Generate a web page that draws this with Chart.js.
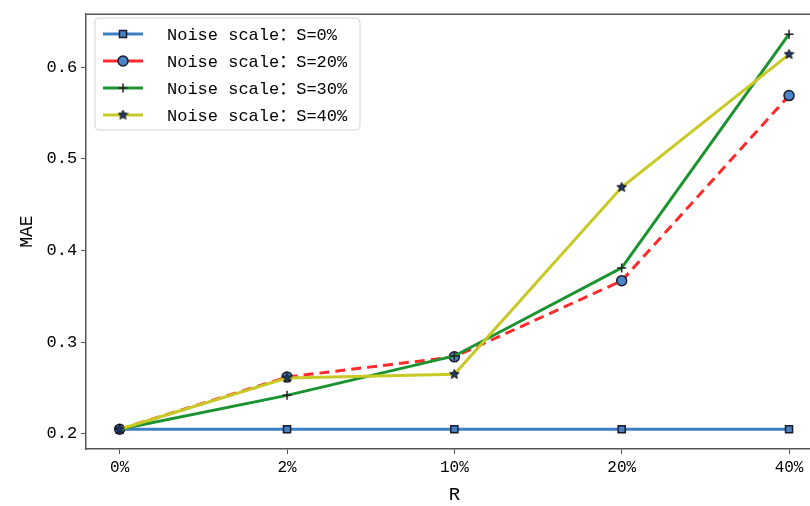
<!DOCTYPE html>
<html>
<head>
<meta charset="utf-8">
<script src="https://cdn.jsdelivr.net/npm/chart.js@4"></script>
<style>
  html, body { margin: 0; padding: 0; background: #fff; overflow: hidden; }
  #wrap { position: relative; width: 829px; height: 506px; }
</style>
</head>
<body>
<div id="wrap"><canvas id="myChart"></canvas></div>
<script>
const categories = ['0%', '2%', '10%', '20%', '40%'];
const yTicks = [0.2, 0.3, 0.4, 0.5, 0.6];
const seriesNames = ['Noise scale：S=0%', 'Noise scale：S=20%', 'Noise scale：S=30%', 'Noise scale：S=40%'];
const s0 = [0.205, 0.205, 0.205, 0.205, 0.205];
const s20 = [0.205, 0.262, 0.284, 0.367, 0.569];
const s30 = [0.205, 0.242, 0.285, 0.381, 0.636];
const s40 = [0.205, 0.261, 0.265, 0.469, 0.614];

const FONT = "'Liberation Mono', 'Noto Sans CJK SC', monospace";

// filled star marker like matplotlib '*'
function makeStar(size, fill, edge) {
  const c = document.createElement('canvas');
  c.width = size; c.height = size;
  const g = c.getContext('2d');
  const cx = size / 2, cy = size / 2, R = size / 2 - 0.5, r = R * 0.45;
  g.beginPath();
  for (let i = 0; i < 10; i++) {
    const a = -Math.PI / 2 + i * Math.PI / 5;
    const rr = i % 2 ? r : R;
    g.lineTo(cx + rr * Math.cos(a), cy + rr * Math.sin(a));
  }
  g.closePath();
  g.fillStyle = fill; g.fill();
  g.strokeStyle = edge; g.lineWidth = 1; g.stroke();
  return c;
}
const star = makeStar(11, '#1d3a6e', '#111');

const pts = arr => arr.map((v, i) => ({x: i, y: v}));

const datasets = [
  {
    label: seriesNames[0], data: pts(s0), order: 4,
    borderColor: '#3d7fc4', borderWidth: 3,
    pointStyle: 'rect', pointRadius: 5, pointBackgroundColor: '#4a80c0',
    pointBorderColor: '#1a1a2a', pointBorderWidth: 1.5
  },
  {
    label: seriesNames[1], data: pts(s20), order: 3,
    borderColor: '#ff2a2a', borderWidth: 3, borderDash: [10, 6],
    pointStyle: 'circle', pointRadius: 5, pointBackgroundColor: '#4a86c8',
    pointBorderColor: '#1a1a2a', pointBorderWidth: 1.5
  },
  {
    label: seriesNames[2], data: pts(s30), order: 2,
    borderColor: '#1b9330', borderWidth: 3,
    pointStyle: 'cross', pointRadius: 4.5, pointBackgroundColor: '#222',
    pointBorderColor: '#222', pointBorderWidth: 1.5
  },
  {
    label: seriesNames[3], data: pts(s40), order: 1,
    borderColor: '#c9c925', borderWidth: 3,
    pointStyle: star, pointRadius: 5, pointBackgroundColor: '#1d3a6e',
    pointBorderColor: '#111', pointBorderWidth: 1
  }
];

const frameAndLegend = {
  id: 'frameAndLegend',
  afterDraw(chart) {
    const {ctx, chartArea: a} = chart;
    ctx.save();
    // top frame line
    ctx.strokeStyle = '#555';
    ctx.lineWidth = 1.5;
    ctx.beginPath();
    ctx.moveTo(a.left, a.top);
    ctx.lineTo(a.right, a.top);
    ctx.stroke();

    // legend box
    const bx = 95, by = 18, bw = 265, bh = 112;
    ctx.beginPath();
    ctx.roundRect(bx, by, bw, bh, 4);
    ctx.fillStyle = 'rgba(255,255,255,0.85)';
    ctx.fill();
    ctx.strokeStyle = '#d4d4d4';
    ctx.lineWidth = 1;
    ctx.stroke();

    ctx.font = "17px " + FONT;
    ctx.textBaseline = 'middle';
    chart.data.datasets.forEach((ds, i) => {
      const y = 34 + i * 27;
      ctx.save();
      ctx.strokeStyle = ds.borderColor;
      ctx.lineWidth = ds.borderWidth;
      ctx.beginPath();
      ctx.moveTo(103, y);
      ctx.lineTo(143, y);
      ctx.stroke();
      ctx.restore();
      ctx.save();
      ctx.fillStyle = ds.pointBackgroundColor;
      ctx.strokeStyle = ds.pointBorderColor;
      ctx.lineWidth = ds.pointBorderWidth;
      Chart.helpers.drawPoint(ctx, {pointStyle: ds.pointStyle, radius: ds.pointRadius, rotation: 0, borderWidth: ds.pointBorderWidth}, 123, y);
      ctx.restore();
      ctx.fillStyle = '#000';
      ctx.fillText(ds.label, 167, y + 1);
    });
    ctx.restore();
  }
};

new Chart(document.getElementById('myChart'), {
  type: 'line',
  data: {datasets},
  options: {
    responsive: true,
    maintainAspectRatio: false,
    animation: false,
    layout: {padding: {left: 16, right: 0, top: 7, bottom: 0}},
    plugins: {legend: {display: false}, tooltip: {enabled: false}},
    elements: {line: {tension: 0}},
    scales: {
      x: {
        type: 'linear', min: -0.2, max: 4.2,
        afterBuildTicks: s => { s.ticks = categories.map((c, i) => ({value: i})); },
        ticks: {
          callback: v => categories[v], color: '#000',
          font: {family: FONT, size: 16}, padding: 4, maxRotation: 0
        },
        grid: {drawOnChartArea: false, drawTicks: true, tickLength: 5, color: '#555'},
        border: {display: true, color: '#555', width: 1.5},
        title: {display: true, text: 'R', color: '#000', font: {family: FONT, size: 19}, padding: {top: 2, bottom: 0}}
      },
      y: {
        type: 'linear', min: 0.1835, max: 0.6578,
        afterBuildTicks: s => { s.ticks = yTicks.map(v => ({value: v})); },
        ticks: {
          callback: v => v.toFixed(1), color: '#000',
          font: {family: FONT, size: 17}, padding: 4
        },
        grid: {drawOnChartArea: false, drawTicks: true, tickLength: 5, color: '#555'},
        border: {display: true, color: '#555', width: 1.5},
        title: {display: true, text: 'MAE', color: '#000', font: {family: FONT, size: 18}, padding: {top: 0, bottom: 5}}
      }
    }
  },
  plugins: [frameAndLegend]
});
</script>
</body>
</html>
